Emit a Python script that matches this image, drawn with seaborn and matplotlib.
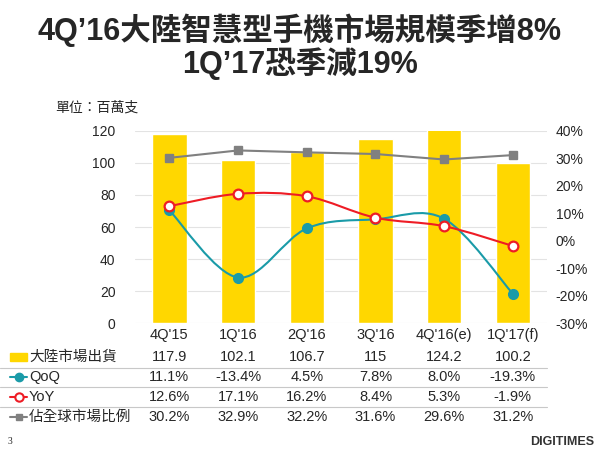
import numpy as np
import pandas as pd
import matplotlib
matplotlib.use("Agg")
import matplotlib.pyplot as plt
import matplotlib.transforms as mtransforms
from matplotlib.path import Path
from matplotlib.patches import PathPatch, Rectangle
from matplotlib.lines import Line2D
import seaborn as sns

# data
quarters = ["4Q'15", "1Q'16", "2Q'16", "3Q'16", "4Q'16(e)", "1Q'17(f)"]
shipments = [117.9, 102.1, 106.7, 115, 124.2, 100.2]
qoq = [11.1, -13.4, 4.5, 7.8, 8.0, -19.3]
yoy = [12.6, 17.1, 16.2, 8.4, 5.3, -1.9]
global_share = [30.2, 32.9, 32.2, 31.6, 29.6, 31.2]

ship_labels = ["117.9", "102.1", "106.7", "115", "124.2", "100.2"]
row_names = ["大陸市場出貨", "QoQ", "YoY", "佔全球市場比例"]

BAR = "#FFD700"
TEAL = "#1A9BA8"
RED = "#EE1C25"
GRAY = "#808080"

sns.set_theme(style="white")
plt.rcParams['font.family'] = ['Liberation Sans', 'Noto Sans CJK TC', 'DejaVu Sans']


def smooth_path(xs, ys, t=1 / 6):
    # Catmull-Rom style bezier through the points (Excel "smoothed line")
    xs = np.asarray(xs, float)
    ys = np.asarray(ys, float)
    verts = [(xs[0], ys[0])]
    codes = [Path.MOVETO]
    n = len(xs)
    for i in range(n - 1):
        p0 = (xs[max(i - 1, 0)], ys[max(i - 1, 0)])
        p1 = (xs[i], ys[i])
        p2 = (xs[i + 1], ys[i + 1])
        p3 = (xs[min(i + 2, n - 1)], ys[min(i + 2, n - 1)])
        c1 = (p1[0] + (p2[0] - p0[0]) * t, p1[1] + (p2[1] - p0[1]) * t)
        c2 = (p2[0] - (p3[0] - p1[0]) * t, p2[1] - (p3[1] - p1[1]) * t)
        verts += [c1, c2, p2]
        codes += [Path.CURVE4] * 3
    return Path(verts, codes)


fig = plt.figure(figsize=(6, 4.5), dpi=100)
ax = fig.add_axes([0.225, 0.282, 0.687, 0.427])

df = pd.DataFrame({"Quarter": quarters, "Shipments": shipments})
sns.barplot(data=df, x="Quarter", y="Shipments", color=BAR, saturation=1,
            width=0.5, ax=ax, zorder=2)
ax.set_ylim(0, 120)
ax.set_xlim(-0.5, 5.5)
ax.set_yticks(range(0, 121, 20))
ax.yaxis.grid(True, color="#E3E3E3", linewidth=0.8, zorder=0)
ax.set_axisbelow(True)
ax.set_xlabel("")
ax.set_ylabel("")
ax.set_xticks([])
ax.tick_params(axis="y", labelsize=10, length=0, pad=14)
for s in ax.spines.values():
    s.set_visible(False)

ax2 = ax.twinx()
ax2.set_ylim(-30, 40)
ax2.set_yticks(range(-30, 41, 10))
ax2.set_yticklabels([f"{v}%" for v in range(-30, 41, 10)])
ax2.tick_params(axis="y", labelsize=10, length=0, pad=6)
for s in ax2.spines.values():
    s.set_visible(False)
ax2.set_xlim(-0.5, 5.5)

x = np.arange(len(quarters))
ax2.plot(x, global_share, color=GRAY, linewidth=1.5, marker="s",
         markersize=6, zorder=3)
ax2.add_patch(PathPatch(smooth_path(x, qoq), facecolor="none", edgecolor=TEAL,
                        linewidth=1.5, zorder=4))
ax2.plot(x, qoq, linestyle="none", marker="o", markersize=7, color=TEAL, zorder=5)
ax2.add_patch(PathPatch(smooth_path(x, yoy), facecolor="none", edgecolor=RED,
                        linewidth=1.5, zorder=4))
ax2.plot(x, yoy, linestyle="none", marker="o", markersize=7, markerfacecolor="white",
         markeredgecolor=RED, markeredgewidth=1.6, zorder=5)

# data table under the chart
tr = mtransforms.blended_transform_factory(ax.transData, fig.transFigure)
row_y = [1 - 335 / 450, 1 - 357 / 450, 1 - 377 / 450, 1 - 397 / 450, 1 - 417 / 450]
for i, q in enumerate(quarters):
    fig.text(i, row_y[0], q, transform=tr, ha="center", va="center", fontsize=10.5)
    fig.text(i, row_y[1], ship_labels[i], transform=tr, ha="center", va="center", fontsize=10.5)
    fig.text(i, row_y[2], f"{qoq[i]:.1f}%", transform=tr, ha="center", va="center", fontsize=10.5)
    fig.text(i, row_y[3], f"{yoy[i]:.1f}%", transform=tr, ha="center", va="center", fontsize=10.5)
    fig.text(i, row_y[4], f"{global_share[i]:.1f}%", transform=tr, ha="center", va="center", fontsize=10.5)

for name, yy in zip(row_names, row_y[1:]):
    fig.text(29 / 600, yy, name, ha="left", va="center", fontsize=10.5)

for ypx in [368, 387, 407]:
    fig.add_artist(Line2D([0, 547 / 600], [1 - ypx / 450] * 2, color="#C8C8C8", linewidth=0.8))

# legend keys in the table
fig.add_artist(Rectangle((10 / 600, 1 - 361 / 450), 17 / 600, 8 / 450, color=BAR))
fig.add_artist(Line2D([10 / 600, 27 / 600], [row_y[2]] * 2, color=TEAL, linewidth=1.5))
fig.add_artist(Line2D([18.5 / 600], [row_y[2]], color=TEAL, marker="o", markersize=6))
fig.add_artist(Line2D([10 / 600, 27 / 600], [row_y[3]] * 2, color=RED, linewidth=1.5))
fig.add_artist(Line2D([18.5 / 600], [row_y[3]], marker="o", markersize=6,
                      markerfacecolor="white", markeredgecolor=RED, markeredgewidth=1.5))
fig.add_artist(Line2D([10 / 600, 27 / 600], [row_y[4]] * 2, color=GRAY, linewidth=1.5))
fig.add_artist(Line2D([18.5 / 600], [row_y[4]], marker="s", markersize=5, color=GRAY))

# titles and notes
fig.text(0.5, 1 - 30 / 450, "4Q’16大陸智慧型手機市場規模季增8%", ha="center", va="center",
         fontsize=22, fontweight="bold")
fig.text(0.5, 1 - 64 / 450, "1Q’17恐季減19%", ha="center", va="center",
         fontsize=22, fontweight="bold")
fig.text(55 / 600, 1 - 108 / 450, "單位：百萬支", ha="left", va="center", fontsize=10)
fig.text(8 / 600, 1 - 441 / 450, "3", ha="left", va="center", fontsize=7,
         family=["Liberation Serif"])
fig.text(594 / 600, 1 - 442 / 450, "DIGITIMES", ha="right", va="center", fontsize=9,
         fontweight="bold", color="#333333")

fig.savefig("out.png", dpi=100)
